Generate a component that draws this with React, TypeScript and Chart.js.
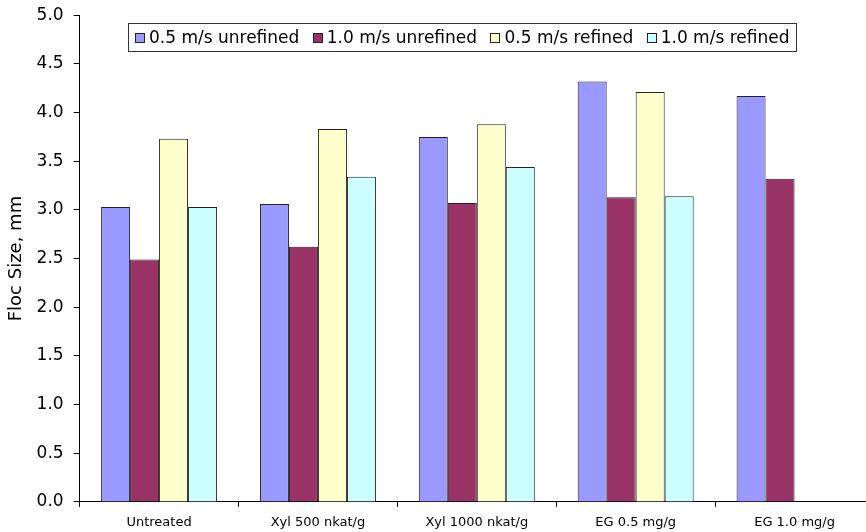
import React, { useEffect, useRef } from 'react';
import { Chart, registerables } from 'chart.js';

Chart.register(...registerables);

const categories = ['Untreated', 'Xyl 500 nkat/g', 'Xyl 1000 nkat/g', 'EG 0.5 mg/g', 'EG 1.0 mg/g'];
const seriesNames = ['0.5 m/s unrefined', '1.0 m/s unrefined', '0.5 m/s refined', '1.0 m/s refined'];
const unrefined05 = [3.03, 3.06, 3.75, 4.32, 4.17];
const unrefined10 = [2.49, 2.62, 3.07, 3.13, 3.32];
const refined05 = [3.73, 3.83, 3.88, 4.21, null];
const refined10 = [3.03, 3.34, 3.44, 3.14, null];
const seriesColors = ['#9999FF', '#993366', '#FFFFCC', '#CCFFFF'];
const yMin = 0;
const yMax = 5;
const yStep = 0.5;

const FONT = '"DejaVu Sans", "Liberation Sans", Arial, sans-serif';

const boxLegend = {
  id: 'boxLegend',
  afterDraw(chart: any) {
    const ctx = chart.ctx as CanvasRenderingContext2D;
    ctx.save();
    ctx.font = `17px ${FONT}`;
    const boxX = 128;
    const boxY = 28;
    const boxH = 28;
    const pad = 7;
    const sq = 9;
    const sqGap = 5;
    const itemGap = 13.4;
    const items = chart.data.datasets.map((d: any) => ({
      label: d.label as string,
      color: d.backgroundColor as string,
      w: ctx.measureText(d.label).width,
    }));
    let total = pad * 2;
    items.forEach((it: any, i: number) => {
      total += sq + sqGap + it.w + (i < items.length - 1 ? itemGap : 0);
    });
    ctx.fillStyle = '#ffffff';
    ctx.fillRect(boxX, boxY, total, boxH);
    ctx.strokeStyle = '#333333';
    ctx.lineWidth = 1;
    ctx.strokeRect(Math.round(boxX) + 0.5, boxY + 0.5, Math.round(total), boxH);
    let x = boxX + pad;
    const cy = boxY + boxH / 2 + 0.5;
    ctx.textBaseline = 'middle';
    ctx.textAlign = 'left';
    items.forEach((it: any) => {
      const sx = Math.round(x);
      const sy = Math.round(cy - sq / 2);
      ctx.fillStyle = it.color;
      ctx.fillRect(sx, sy, sq, sq);
      ctx.strokeStyle = '#222222';
      ctx.strokeRect(sx + 0.5, sy + 0.5, sq, sq);
      ctx.fillStyle = '#000000';
      ctx.fillText(it.label, x + sq + sqGap, cy + 1);
      x += sq + sqGap + it.w + itemGap;
    });
    ctx.restore();
  },
};

export default function App() {
  const canvasRef = useRef<HTMLCanvasElement | null>(null);

  useEffect(() => {
    if (!canvasRef.current) return;
    const seriesData = [unrefined05, unrefined10, refined05, refined10];
    const chart = new Chart(canvasRef.current, {
      type: 'bar',
      data: {
        labels: categories,
        datasets: seriesNames.map((name, i) => ({
          label: name,
          data: seriesData[i] as any,
          backgroundColor: seriesColors[i],
          borderColor: '#222222',
          borderWidth: 1,
          categoryPercentage: 0.73,
          barPercentage: 1.0,
        })),
      },
      options: {
        animation: false,
        responsive: true,
        maintainAspectRatio: false,
        layout: { padding: { left: 6, top: 10, right: 6, bottom: 3.5 } },
        plugins: {
          legend: { display: false },
          tooltip: { enabled: false },
        },
        scales: {
          x: {
            offset: true,
            grid: {
              offset: true,
              drawOnChartArea: false,
              drawTicks: true,
              tickLength: 5,
              color: '#000000',
            },
            border: { display: true, color: '#000000', width: 1 },
            ticks: {
              color: '#000000',
              font: { family: FONT, size: 13 },
              padding: 8,
              maxRotation: 0,
              autoSkip: false,
            },
          },
          y: {
            min: yMin,
            max: yMax,
            grid: {
              drawOnChartArea: false,
              drawTicks: true,
              tickLength: 6,
              color: '#000000',
            },
            border: { display: true, color: '#000000', width: 1 },
            ticks: {
              stepSize: yStep,
              color: '#000000',
              font: { family: FONT, size: 17 },
              padding: 10,
              callback: (v: any) => Number(v).toFixed(1),
            },
            title: {
              display: true,
              text: 'Floc Size, mm',
              color: '#000000',
              font: { family: FONT, size: 18 },
              padding: { top: 0, bottom: -1 },
            },
          },
        },
      },
      plugins: [boxLegend],
    });
    return () => chart.destroy();
  }, []);

  return (
    <div
      style={{
        position: 'absolute',
        left: 0,
        top: 0,
        width: 866,
        height: 532,
        overflow: 'hidden',
        background: '#ffffff',
      }}
    >
      <div style={{ position: 'relative', top: -5, width: 880, height: 547 }}>
        <canvas ref={canvasRef} />
      </div>
    </div>
  );
}
